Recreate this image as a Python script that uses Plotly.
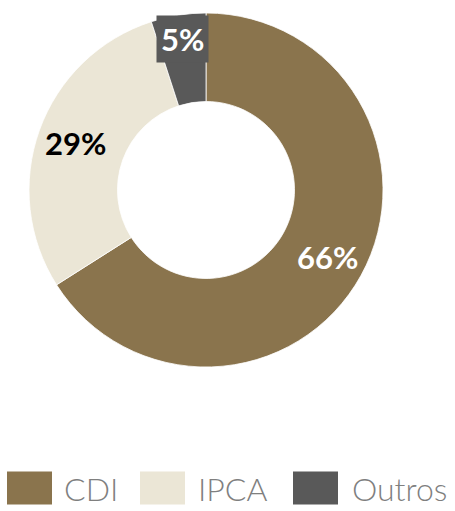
import math
import plotly.graph_objects as go

categories = ["CDI", "IPCA", "Outros"]
values = [66, 29, 5]
colors = ["#8A744D", "#EBE6D6", "#595959"]
label_colors = ["white", "black", "white"]
label_bg = [None, None, "#595959"]

W, H = 455, 511
CX, CY, R = 206, 190, 177          # pie centre and radius in px
label_r = [139, 139, 153]          # label distance from centre (px)

fig = go.Figure(go.Pie(
    labels=categories, values=values, sort=False, direction="clockwise",
    rotation=0, hole=0.5, textinfo="none", hoverinfo="label+percent",
    marker=dict(colors=colors, line=dict(color="white", width=0.8)),
    domain=dict(x=[(CX - R) / W, (CX + R) / W],
                y=[(H - CY - R) / H, (H - CY + R) / H]),
    showlegend=False,
))

total = sum(values)
start = 0.0
annotations = []
for cat, v, tc, bg, rl in zip(categories, values, label_colors, label_bg, label_r):
    mid = start + v / total * 360 / 2
    start += v / total * 360
    a = math.radians(mid)
    px = CX + rl * math.sin(a)
    py = CY - rl * math.cos(a)
    annotations.append(dict(
        x=px / W, y=1 - py / H, xref="paper", yref="paper",
        xanchor="center", yanchor="middle",
        text=f"<b>{round(v / total * 100)}%</b>", showarrow=False,
        font=dict(family="Lato, DejaVu Sans", size=31, color=tc),
        bgcolor=bg, borderpad=4 if bg else 0,
    ))

# custom legend
legend_x = [7, 140, 293]
legend_text_x = [62, 196, 350]
sq_w, sq_h, leg_y = 45, 33, 488
shapes = []
for cat, col, lx, tx in zip(categories, colors, legend_x, legend_text_x):
    shapes.append(dict(type="rect", xref="paper", yref="paper",
                       x0=lx / W, x1=(lx + sq_w) / W,
                       y0=1 - (leg_y + sq_h / 2) / H, y1=1 - (leg_y - sq_h / 2) / H,
                       fillcolor=col, line=dict(width=0)))
    annotations.append(dict(x=tx / W, y=1 - leg_y / H, xref="paper", yref="paper",
                            xanchor="left", yanchor="middle", text=cat, showarrow=False,
                            font=dict(family="Lato Light, Lato, DejaVu Sans", size=32,
                                      weight=300, color="#7F7F7F")))

fig.update_layout(width=W, height=H, margin=dict(l=0, r=0, t=0, b=0),
                  paper_bgcolor="white", plot_bgcolor="white",
                  shapes=shapes, annotations=annotations)
fig.write_html("out.html")
